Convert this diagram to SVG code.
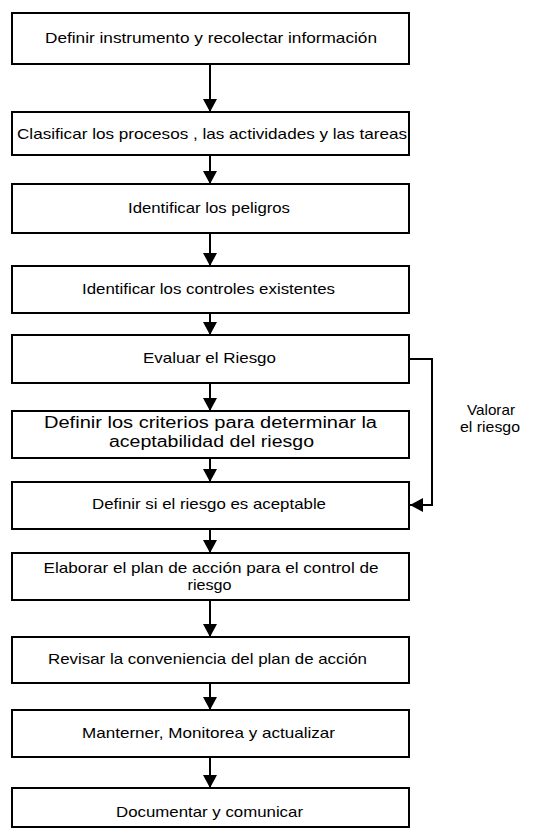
<svg xmlns="http://www.w3.org/2000/svg" width="534" height="830" viewBox="0 0 534 830">
<style>
.box{fill:#fff;stroke:#000;stroke-width:2}
.t{font-family:"Liberation Sans",Arial,sans-serif;font-size:15px;fill:#000;text-anchor:middle}
.big{font-size:16px}
.lbl{font-family:"Liberation Sans",Arial,sans-serif;font-size:14.5px;fill:#000;text-anchor:middle}
.c{fill:none;stroke:#000;stroke-width:2}
</style>
<defs>
<marker id="ah" markerUnits="userSpaceOnUse" markerWidth="16" markerHeight="14" refX="13" refY="7" orient="auto">
<path d="M0,0 L13,7 L0,14 Z" fill="#000"/>
</marker>
</defs>
<rect width="534" height="830" fill="#fff"/>
<g id="connectors">
<path class="c" d="M210,64 V112" marker-end="url(#ah)"/>
<path class="c" d="M210,155 V184" marker-end="url(#ah)"/>
<path class="c" d="M210,233 V266" marker-end="url(#ah)"/>
<path class="c" d="M210,313 V335" marker-end="url(#ah)"/>
<path class="c" d="M210,383 V411" marker-end="url(#ah)"/>
<path class="c" d="M210,458 V482" marker-end="url(#ah)"/>
<path class="c" d="M210,529 V553" marker-end="url(#ah)"/>
<path class="c" d="M210,600 V637" marker-end="url(#ah)"/>
<path class="c" d="M210,683 V710" marker-end="url(#ah)"/>
<path class="c" d="M210,757 V788" marker-end="url(#ah)"/>
<path class="c" d="M409,359 H432 V505 H410" marker-end="url(#ah)"/>
</g>
<g id="n1"><rect class="box" x="12" y="13" width="397" height="51"/><text class="t" x="211" y="43" textLength="332" lengthAdjust="spacingAndGlyphs">Definir instrumento y recolectar información</text></g>
<g id="n2"><rect class="box" x="12" y="112" width="397" height="43"/><text class="t" x="212" y="139" textLength="390" lengthAdjust="spacingAndGlyphs">Clasificar los procesos , las actividades y las tareas</text></g>
<g id="n3"><rect class="box" x="12" y="184" width="397" height="49"/><text class="t" x="209" y="213" textLength="162" lengthAdjust="spacingAndGlyphs">Identificar los peligros</text></g>
<g id="n4"><rect class="box" x="12" y="266" width="397" height="47"/><text class="t" x="208.5" y="294" textLength="253" lengthAdjust="spacingAndGlyphs">Identificar los controles existentes</text></g>
<g id="n5"><rect class="box" x="12" y="335" width="397" height="48"/><text class="t" x="209.5" y="363" textLength="133" lengthAdjust="spacingAndGlyphs">Evaluar el Riesgo</text></g>
<g id="n6"><rect class="box" x="12" y="411" width="397" height="47"/><text class="t big" x="210.5" y="428" textLength="333" lengthAdjust="spacingAndGlyphs">Definir los criterios para determinar la</text><text class="t big" x="211.5" y="447" textLength="205" lengthAdjust="spacingAndGlyphs">aceptabilidad del riesgo</text></g>
<g id="n7"><rect class="box" x="12" y="482" width="397" height="47"/><text class="t" x="209" y="509" textLength="234" lengthAdjust="spacingAndGlyphs">Definir si el riesgo es aceptable</text></g>
<g id="n8"><rect class="box" x="12" y="553" width="397" height="47"/><text class="t" x="211" y="573" textLength="335" lengthAdjust="spacingAndGlyphs">Elaborar el plan de acción para el control de</text><text class="t" x="209.5" y="590" textLength="44" lengthAdjust="spacingAndGlyphs">riesgo</text></g>
<g id="n9"><rect class="box" x="12" y="637" width="397" height="46"/><text class="t" x="207.5" y="664" textLength="319" lengthAdjust="spacingAndGlyphs">Revisar la conveniencia del plan de acción</text></g>
<g id="n10"><rect class="box" x="12" y="710" width="397" height="47"/><text class="t" x="208.5" y="738" textLength="253" lengthAdjust="spacingAndGlyphs">Manterner, Monitorea y actualizar</text></g>
<g id="n11"><rect class="box" x="12" y="788" width="397" height="39"/><text class="t" x="209.5" y="817" textLength="187" lengthAdjust="spacingAndGlyphs">Documentar y comunicar</text></g>
<g id="label"><text class="lbl" x="491" y="415" textLength="48" lengthAdjust="spacingAndGlyphs">Valorar</text><text class="lbl" x="490" y="432" textLength="60" lengthAdjust="spacingAndGlyphs">el riesgo</text></g>
</svg>
